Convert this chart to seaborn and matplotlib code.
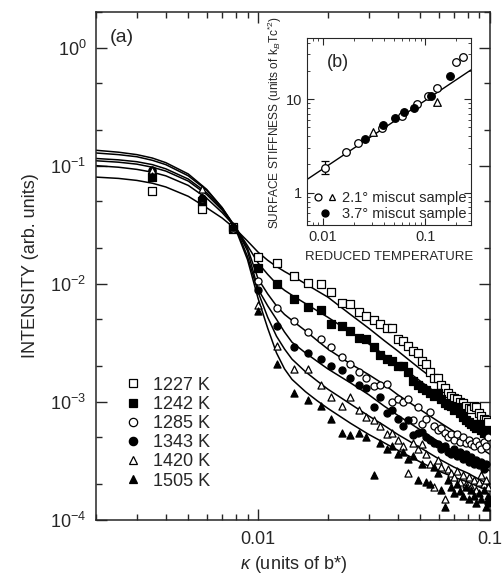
import numpy as np
import matplotlib
matplotlib.use("Agg")
import matplotlib.pyplot as plt
from matplotlib.ticker import LogLocator, FixedLocator, FixedFormatter, NullFormatter
from matplotlib.lines import Line2D
from matplotlib.legend_handler import HandlerTuple
import seaborn as sns

sns.set_style("ticks")
plt.rcParams["font.family"] = ["Liberation Sans", "DejaVu Sans"]
plt.rcParams["mathtext.fontset"] = "custom"
plt.rcParams["mathtext.rm"] = "Liberation Sans"
plt.rcParams["mathtext.it"] = "Liberation Sans:italic"

# ---- panel (a): measured intensities, kappa in units of b*
kappa = [0.0035, 0.0057, 0.0078, 0.0100, 0.0121, 0.0143, 0.0164, 0.0186, 0.0207, 0.0229,
         0.0250, 0.0272, 0.0293, 0.0315, 0.0336, 0.0358, 0.0379, 0.0401, 0.0422, 0.0444,
         0.0465, 0.0487, 0.0508, 0.0530, 0.0551, 0.0573, 0.0594, 0.0616, 0.0637, 0.0659,
         0.0680, 0.0702, 0.0723, 0.0745, 0.0766, 0.0788, 0.0809, 0.0831, 0.0852, 0.0874,
         0.0895, 0.0917, 0.0938, 0.0960, 0.0981]

int_1227 = [0.061, 0.043, 0.030, 0.0167, 0.0150, 0.0117, 0.0102, 0.0100, 0.0085, 0.0069,
            0.0067, 0.0058, 0.0053, 0.0049, 0.0046, 0.0042, 0.0042, 0.0034, 0.0033, 0.0030,
            0.0027, 0.0026, 0.0022, 0.0021, 0.0018, 0.0016, 0.0016, 0.0014, 0.0013, 0.0012,
            0.00112, 0.00108, 0.00105, 0.00100, 0.00098, 0.00092, 0.00088, 0.00087, 0.00093, 0.00090,
            0.00080, 0.00076, 0.00072, 0.00070, 0.00068]
int_1242 = [0.080, 0.050, 0.029, 0.0137, 0.0100, 0.0074, 0.0064, 0.0060, 0.0046, 0.0044,
            0.0040, 0.0035, 0.0034, 0.0029, 0.0025, 0.0023, 0.0022, 0.0020, 0.0020, 0.0018,
            0.0015, 0.0014, 0.0013, 0.00125, 0.00120, 0.00113, 0.00120, 0.00105, 0.00098, 0.00095,
            0.00093, 0.00085, 0.00090, 0.00080, 0.00074, 0.00070, 0.00068, 0.00065, 0.00062, 0.00060,
            0.00065, 0.00058, 0.00055, 0.00057, 0.00052]
int_1285 = [0.090, 0.052, 0.029, 0.0105, 0.0062, 0.0048, 0.0039, 0.0034, 0.0029, 0.0024,
            0.0021, 0.0018, 0.0016, 0.00135, 0.0014, 0.00143, 0.0010, 0.00105, 0.00100, 0.00105,
            0.00070, 0.00090, 0.00065, 0.00072, 0.00082, 0.00062, 0.00058, 0.00060, 0.00055, 0.00050,
            0.00053, 0.00048, 0.00053, 0.00046, 0.00050, 0.00045, 0.00048, 0.00044, 0.00042, 0.00047,
            0.00043, 0.00040, 0.00046, 0.00042, 0.00050]
int_1343 = [0.092, 0.053, 0.030, 0.0089, 0.0044, 0.0029, 0.0026, 0.0023, 0.0020, 0.00185,
            0.0016, 0.0014, 0.0013, 0.0009, 0.0011, 0.0008, 0.00085, 0.00072, 0.00062, 0.00070,
            0.00052, 0.00055, 0.00056, 0.00050, 0.00048, 0.00045, 0.00044, 0.00040, 0.00042, 0.00038,
            0.00036, 0.00040, 0.00035, 0.00038, 0.00033, 0.00036, 0.00031, 0.00034, 0.00030, 0.00032,
            0.00029, 0.00031, 0.00027, 0.00030, 0.00014]
int_1420 = [0.091, 0.063, 0.031, 0.0066, 0.0030, 0.0019, 0.0019, 0.0014, 0.0011, 0.00093,
            0.00110, 0.00085, 0.00074, 0.00070, 0.00062, 0.00053, 0.00055, 0.00048, 0.00042, 0.00025,
            0.00045, 0.00040, 0.00044, 0.00036, 0.00030, 0.00019, 0.00032, 0.00028, 0.00015, 0.00027,
            0.00025, 0.00023, 0.00026, 0.00021, 0.00024, 0.00020, 0.00023, 0.00019, 0.00022, 0.00018,
            0.00021, 0.00024, 0.00020, 0.00022, 0.00019]
int_1505 = [0.082, 0.054, 0.030, 0.0059, 0.0021, 0.0012, 0.00103, 0.00093, 0.00072, 0.00055,
            0.00052, 0.00054, 0.00050, 0.00024, 0.00045, 0.00040, 0.00042, 0.00036, 0.00038, 0.00033,
            0.00035, 0.00022, 0.00030, 0.00021, 0.00020, 0.00028, 0.00025, 0.00018, 0.00013, 0.00022,
            0.00019, 0.00017, 0.00020, 0.000175, 0.00016, 0.00019, 0.00015, 0.00018, 0.00016, 0.00014,
            0.00017, 0.00015, 0.00018, 0.00013, 0.00016]

# fitted line shapes
fit_k = [0.002, 0.0025, 0.003, 0.0035, 0.004, 0.005, 0.006, 0.007, 0.008, 0.009,
         0.010, 0.011, 0.012, 0.013, 0.014, 0.016, 0.018, 0.020, 0.025, 0.030,
         0.035, 0.040, 0.050, 0.060, 0.070, 0.080, 0.090, 0.100]
fit_1227 = [0.080, 0.078, 0.075, 0.071, 0.066, 0.055, 0.044, 0.036, 0.029, 0.023,
            0.0185, 0.0158, 0.0140, 0.0127, 0.0117, 0.0100, 0.0087, 0.0077, 0.0055, 0.0042,
            0.0033, 0.0027, 0.0019, 0.00145, 0.00115, 0.00092, 0.00075, 0.00063]
fit_1242 = [0.100, 0.097, 0.093, 0.088, 0.082, 0.068, 0.053, 0.040, 0.030, 0.021,
            0.0150, 0.0120, 0.0100, 0.0088, 0.0080, 0.0068, 0.0059, 0.0052, 0.0039, 0.0031,
            0.0025, 0.0021, 0.0015, 0.00115, 0.00092, 0.00075, 0.00062, 0.00053]
fit_1285 = [0.110, 0.107, 0.103, 0.097, 0.090, 0.074, 0.057, 0.042, 0.030, 0.020,
            0.0110, 0.0082, 0.0065, 0.0055, 0.0049, 0.0040, 0.0033, 0.0028, 0.0021, 0.0017,
            0.0014, 0.00115, 0.00086, 0.00068, 0.00056, 0.00047, 0.00041, 0.00036]
fit_1343 = [0.115, 0.112, 0.108, 0.102, 0.094, 0.077, 0.059, 0.043, 0.030, 0.019,
            0.0090, 0.0065, 0.0050, 0.0039, 0.0032, 0.0026, 0.0022, 0.0019, 0.00145, 0.00115,
            0.00092, 0.00077, 0.00058, 0.00046, 0.00038, 0.00033, 0.00029, 0.00026]
fit_1420 = [0.128, 0.124, 0.119, 0.111, 0.102, 0.082, 0.062, 0.044, 0.030, 0.017,
            0.0085, 0.0052, 0.0036, 0.0028, 0.0023, 0.0018, 0.0015, 0.00128, 0.00096, 0.00076,
            0.00063, 0.00053, 0.00041, 0.00033, 0.00028, 0.00025, 0.00022, 0.00020]
fit_1505 = [0.135, 0.130, 0.124, 0.116, 0.106, 0.085, 0.063, 0.044, 0.029, 0.016,
            0.0075, 0.0042, 0.0026, 0.0019, 0.00155, 0.00122, 0.00102, 0.00088, 0.00066, 0.00053,
            0.00045, 0.00039, 0.00031, 0.00026, 0.00023, 0.00021, 0.00019, 0.00018]

temps = ["1227 K", "1242 K", "1285 K", "1343 K", "1420 K", "1505 K"]
series = [int_1227, int_1242, int_1285, int_1343, int_1420, int_1505]
fits = [fit_1227, fit_1242, fit_1285, fit_1343, fit_1420, fit_1505]
markers = ["s", "s", "o", "o", "^", "^"]
filled = [False, True, False, True, False, True]

# ---- panel (b): surface stiffness vs reduced temperature
t_21 = [0.0106, 0.0169, 0.0223, 0.0377, 0.0589, 0.0836, 0.106, 0.131, 0.202, 0.236]
s_21 = [1.85, 2.73, 3.38, 4.85, 6.63, 8.84, 10.9, 13.0, 24.7, 27.9]
t_21_tri = [0.031, 0.130]
s_21_tri = [4.4, 9.36]
t_37 = [0.026, 0.0386, 0.0504, 0.0617, 0.078, 0.114, 0.173]
s_37 = [3.73, 5.31, 6.31, 7.32, 7.94, 10.7, 17.8]
err_lo = [0.28]
err_hi = [0.33]
line_t = [0.007, 0.28]
line_s = [1.38, 20.5]

fig = plt.figure(figsize=(5.03, 5.74), dpi=100)
ax = fig.add_axes([0.1909, 0.0941, 0.7833, 0.885])

for fit in fits:
    sns.lineplot(x=fit_k, y=fit, ax=ax, color="black", lw=1.1,
                 estimator=None, sort=False, legend=False)
for vals, mk, fl in zip(series, markers, filled):
    sns.scatterplot(x=kappa, y=vals, ax=ax, marker=mk, s=26,
                    color="black" if fl else "white", edgecolor="black",
                    linewidth=0.9, zorder=3, legend=False)

ax.set_xscale("log")
ax.set_yscale("log")
ax.set_xlim(0.002, 0.1)
ax.set_ylim(1e-4, 2)
ax.xaxis.set_major_locator(FixedLocator([0.01, 0.1]))
ax.xaxis.set_major_formatter(FixedFormatter(["0.01", "0.1"]))
ax.xaxis.set_minor_locator(LogLocator(base=10, subs=np.arange(2, 10)))
ax.xaxis.set_minor_formatter(NullFormatter())
ax.yaxis.set_major_locator(LogLocator(base=10, numticks=10))
ax.yaxis.set_minor_locator(LogLocator(base=10, subs=(2.0, 5.0), numticks=10))
ax.yaxis.set_minor_formatter(NullFormatter())
ax.tick_params(which="both", direction="in", top=True, right=True, width=1.0, labelsize=13)
ax.tick_params(which="major", length=8)
ax.tick_params(which="minor", length=4)
ax.tick_params(axis="x", pad=8)
ax.tick_params(axis="y", pad=7)
for sp in ax.spines.values():
    sp.set_linewidth(1.1)
ax.set_xlabel(r"$\kappa$ (units of b*)", fontsize=13, labelpad=4)
ax.set_ylabel("INTENSITY (arb. units)", fontsize=13, labelpad=8)
ax.text(0.035, 0.95, "(a)", transform=ax.transAxes, fontsize=14, va="center")

handles = []
for mk, fl, lab in zip(markers, filled, temps):
    handles.append(Line2D([], [], ls="none", marker=mk, markersize=6,
                          markerfacecolor="black" if fl else "white",
                          markeredgecolor="black", markeredgewidth=0.9, label=lab))
ax.legend(handles=handles, loc="lower left", bbox_to_anchor=(0.04, 0.035),
          frameon=False, fontsize=13, handlelength=1.0, handletextpad=0.6,
          labelspacing=0.12, borderpad=0.2)

# inset
axin = fig.add_axes([0.6103, 0.608, 0.326, 0.3258])
sns.lineplot(x=line_t, y=line_s, ax=axin, color="black", lw=1.0, estimator=None, legend=False)
axin.errorbar(t_21[:1], s_21[:1], yerr=[err_lo, err_hi], fmt="none", ecolor="black",
              elinewidth=0.9, capsize=3, capthick=0.9)
sns.scatterplot(x=t_21, y=s_21, ax=axin, marker="o", s=30, color="white",
                edgecolor="black", linewidth=0.9, zorder=3, legend=False)
sns.scatterplot(x=t_21_tri, y=s_21_tri, ax=axin, marker="^", s=30, color="white",
                edgecolor="black", linewidth=0.9, zorder=3, legend=False)
sns.scatterplot(x=t_37, y=s_37, ax=axin, marker="o", s=30, color="black",
                edgecolor="black", linewidth=0.9, zorder=3, legend=False)
axin.set_xscale("log")
axin.set_yscale("log")
axin.set_xlim(0.007, 0.28)
axin.set_ylim(0.45, 45)
axin.xaxis.set_major_locator(FixedLocator([0.01, 0.1]))
axin.xaxis.set_major_formatter(FixedFormatter(["0.01", "0.1"]))
axin.yaxis.set_major_locator(FixedLocator([1, 10]))
axin.yaxis.set_major_formatter(FixedFormatter(["1", "10"]))
axin.xaxis.set_minor_locator(LogLocator(base=10, subs=np.arange(2, 10)))
axin.yaxis.set_minor_locator(LogLocator(base=10, subs=np.arange(2, 10)))
axin.xaxis.set_minor_formatter(NullFormatter())
axin.yaxis.set_minor_formatter(NullFormatter())
axin.tick_params(which="both", direction="in", top=True, right=True, labelsize=10.5)
axin.tick_params(which="major", length=5)
axin.tick_params(which="minor", length=2.5)
axin.set_xlabel("REDUCED TEMPERATURE", fontsize=9.5, labelpad=5)
axin.set_ylabel("SURFACE STIFFNESS (units of k$_B$Tc$^{*2}$)", fontsize=8.6)
axin.yaxis.set_label_coords(-0.14, 0.55)
axin.text(0.12, 0.87, "(b)", transform=axin.transAxes, fontsize=13, va="center")

h_open_c = Line2D([], [], ls="none", marker="o", markersize=5, markerfacecolor="white",
                  markeredgecolor="black", markeredgewidth=0.9)
h_open_t = Line2D([], [], ls="none", marker="^", markersize=5, markerfacecolor="white",
                  markeredgecolor="black", markeredgewidth=0.9)
h_fill_c = Line2D([], [], ls="none", marker="o", markersize=5, markerfacecolor="black",
                  markeredgecolor="black")
axin.legend([(h_open_c, h_open_t), h_fill_c],
            ["2.1\u00b0 miscut sample", "3.7\u00b0 miscut sample"],
            handler_map={tuple: HandlerTuple(ndivide=None, pad=0.3)},
            loc="lower right", frameon=False, fontsize=10.5, handlelength=1.6,
            handletextpad=0.4, labelspacing=0.1, borderpad=0.2, borderaxespad=0.1)

fig.savefig("out.png", dpi=100)
